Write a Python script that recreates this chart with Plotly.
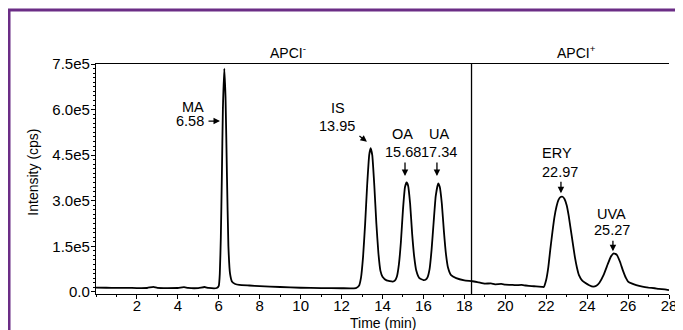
import plotly.graph_objects as go

# ---- data ----
time_min = [
    0.0, 0.5, 1.0, 1.5, 2.0, 2.5, 2.8, 3.0, 3.5, 4.0, 4.3, 4.5, 5.0, 5.3, 5.5, 5.9,
    6.0, 6.05, 6.10, 6.15, 6.20, 6.27, 6.33, 6.40, 6.47, 6.55, 6.65, 6.8, 7.0, 7.5,
    8.0, 9.0, 10.0, 11.0, 12.0, 12.7, 12.85,
    12.95, 13.05, 13.15, 13.25, 13.35, 13.42, 13.5, 13.6, 13.7, 13.8, 13.9, 14.0, 14.2, 14.5,
    14.6, 14.7, 14.8, 14.9, 15.0, 15.1, 15.18, 15.25, 15.35, 15.45, 15.55, 15.65, 15.8, 16.0, 16.1,
    16.2, 16.3, 16.4, 16.5, 16.6, 16.72, 16.8, 16.9, 17.0, 17.1, 17.2, 17.35, 17.6, 18.0, 18.4,
    18.7, 19.0, 19.3, 19.5, 19.8, 20.0, 20.3, 20.5, 20.8, 21.0, 21.3, 21.5, 21.8, 21.88,
    22.0, 22.1, 22.2, 22.3, 22.4, 22.5, 22.6, 22.7, 22.8, 22.9, 23.0, 23.1, 23.2, 23.3, 23.4,
    23.5, 23.6, 23.75, 23.9, 24.1, 24.3, 24.45,
    24.6, 24.8, 25.0, 25.15, 25.3, 25.45, 25.6, 25.75, 25.9, 26.0, 26.2, 26.4, 26.7, 27.0,
    27.3, 27.5, 27.8, 28.0,
]
intensity_cps = [
    14000, 13500, 13000, 13200, 12500, 12800, 16500, 13000, 12500, 12800, 15500, 13000, 12500, 16000, 13000, 12800,
    20000, 60000, 180000, 380000, 600000, 735000, 640000, 380000, 150000, 60000, 33000, 26000, 23000, 21000,
    19000, 16000, 13500, 12500, 12000, 12500, 20000,
    47000, 115000, 223000, 351000, 450000, 473000, 450000, 350000, 225000, 127000, 69000, 50000, 38000, 34000,
    37000, 50000, 90000, 165000, 270000, 345000, 360000, 350000, 290000, 190000, 115000, 70000, 45000, 39000, 40000,
    48000, 75000, 140000, 230000, 315000, 357000, 345000, 290000, 200000, 125000, 80000, 55000, 45000, 38000, 35000,
    31000, 27000, 28000, 25000, 26000, 24000, 23000, 22000, 23000, 21000, 19000, 18000, 16500, 16000,
    40000, 80000, 140000, 195000, 245000, 280000, 303000, 312000, 313000, 305000, 285000, 250000, 205000, 160000, 115000,
    80000, 55000, 38000, 30000, 22000, 17000, 20000,
    30000, 55000, 90000, 115000, 127000, 122000, 100000, 70000, 45000, 34000, 27000, 22000, 17000, 14000,
    12000, 10000, 8000, 6000,
]

y_tick_vals = [0, 150000, 300000, 450000, 600000, 750000]
y_tick_text = ["0.0", "1.5e5", "3.0e5", "4.5e5", "6.0e5", "7.5e5"]
x_tick_vals = [2, 4, 6, 8, 10, 12, 14, 16, 18, 20, 22, 24, 26, 28]
x_tick_text = [str(v) for v in x_tick_vals]

peak_names = ["MA", "IS", "OA", "UA", "ERY", "UVA"]
peak_rt_labels = ["6.58", "13.95", "15.68", "17.34", "22.97", "25.27"]
mode_switch_min = 18.35

# ---- layout helpers (positions only) ----
name_pos = [(4.74, 610000), (11.83, 604000), (14.98, 518000), (16.78, 518000), (22.53, 458000), (25.21, 255000)]
rt_pos = [(4.59, 562000), (11.78, 546000), (14.98, 461000), (16.78, 461000), (22.67, 395000), (25.21, 203000)]
arrow_head = [(6.06, 562000), (13.24, 494000), (15.10, 381000), (16.66, 381000), (22.72, 325000), (25.26, 134000)]
arrow_off = [(-13, 0), (-9, -7), (0, -15), (0, -15), (0, -13), (0, -12)]

FONT = "Liberation Sans, Arial, sans-serif"
LBL = 14.5

fig = go.Figure()
fig.add_trace(go.Scatter(
    x=time_min, y=intensity_cps, mode="lines",
    line=dict(color="black", width=1.8, shape="spline", smoothing=0.4),
    hoverinfo="skip", showlegend=False,
))

annotations = []
for name, rt, (nx, ny), (rx, ry), (hx, hy), (ax, ay) in zip(
        peak_names, peak_rt_labels, name_pos, rt_pos, arrow_head, arrow_off):
    annotations.append(dict(x=nx, y=ny, text=name, showarrow=False,
                            xanchor="center", yanchor="middle",
                            font=dict(size=LBL, color="black", family=FONT)))
    annotations.append(dict(x=rx, y=ry, text=rt, showarrow=False,
                            xanchor="center", yanchor="middle",
                            font=dict(size=LBL, color="black", family=FONT)))
    annotations.append(dict(x=hx, y=hy, text="", showarrow=True, ax=ax, ay=ay,
                            arrowhead=2, arrowsize=1, arrowwidth=1.3,
                            arrowcolor="black", standoff=0, startstandoff=0))

annotations += [
    dict(x=9.4, y=1.052, xref="x", yref="paper", text="APCI<sup>-</sup>", showarrow=False,
         xanchor="center", yanchor="middle", font=dict(size=14, color="black", family=FONT)),
    dict(x=23.5, y=1.052, xref="x", yref="paper", text="APCI<sup>+</sup>", showarrow=False,
         xanchor="center", yanchor="middle", font=dict(size=14, color="black", family=FONT)),
    dict(x=0.5, y=-0.126, xref="paper", yref="paper", text="Time (min)", showarrow=False,
         xanchor="center", yanchor="middle", font=dict(size=14, color="black", family=FONT)),
    dict(x=-0.109, y=0.53, xref="paper", yref="paper", text="Intensity (cps)", showarrow=False,
         xanchor="center", yanchor="middle", textangle=-90,
         font=dict(size=14, color="black", family=FONT)),
]

shapes = [
    dict(type="line", xref="x", yref="y", x0=mode_switch_min, x1=mode_switch_min,
         y0=-7000, y1=750000, line=dict(color="black", width=1.3)),
    # purple frame
    dict(type="rect", xref="paper", yref="paper", x0=-0.1518, x1=1.0175, y0=-0.3, y1=1.2348,
         line=dict(color="#6b2d86", width=3), fillcolor="rgba(0,0,0,0)", layer="below"),
]

# page body has an 8px default margin, so the figure is sized/offset to compensate
fig.update_layout(
    width=675, height=322,
    margin=dict(l=88, r=14, t=56, b=36, autoexpand=False),
    paper_bgcolor="white", plot_bgcolor="white",
    font=dict(family=FONT, size=15, color="black"),
    annotations=annotations, shapes=shapes,
    showlegend=False,
)
fig.update_xaxes(
    range=[0, 28], tickvals=x_tick_vals, ticktext=x_tick_text,
    showline=True, linecolor="black", linewidth=1.2, mirror=True,
    ticks="outside", ticklen=4, tickcolor="black", showgrid=False, zeroline=False,
    minor=dict(dtick=1, ticks="outside", ticklen=2, tickcolor="black"),
    tickfont=dict(size=15, family=FONT, color="black"), automargin=False,
    ticklabelstandoff=-6,
)
fig.update_yaxes(
    range=[-7000, 750000], tickvals=y_tick_vals, ticktext=y_tick_text,
    showline=True, linecolor="black", linewidth=1.2,
    ticks="outside", ticklen=4, tickcolor="black", showgrid=False, zeroline=False,
    minor=dict(dtick=15000, ticks="outside", ticklen=2, tickcolor="black"),
    tickfont=dict(size=15, family=FONT, color="black"), automargin=False,
    ticklabelstandoff=-2,
)

fig.write_html("out.html")
